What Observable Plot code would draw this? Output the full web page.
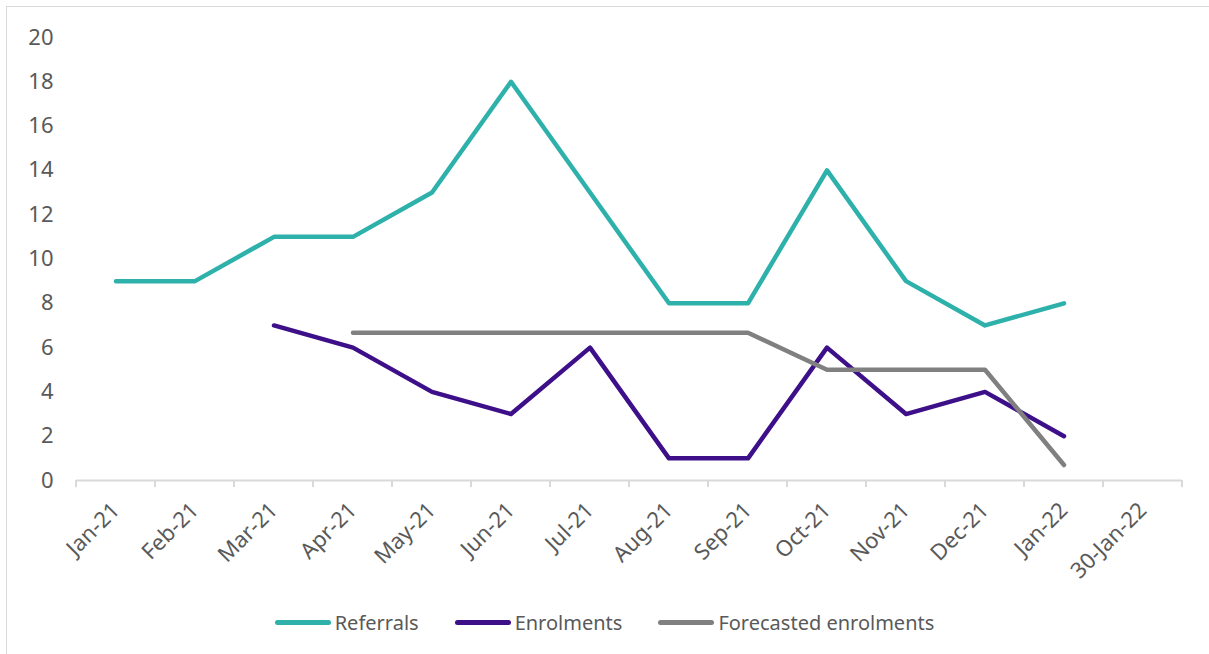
<!DOCTYPE html>
<html><head><meta charset="utf-8">
<script src="https://cdn.jsdelivr.net/npm/d3@7"></script>
<script src="https://cdn.jsdelivr.net/npm/@observablehq/plot@0.6"></script>
<style>
body{margin:0;background:#fff;overflow:hidden;font-family:"Noto Sans",sans-serif;width:1209px;height:654px;position:relative;}
#frame{position:absolute;left:6px;top:6px;width:1230px;height:680px;border:1px solid #d9d9d9;box-sizing:border-box;}
#chart{position:absolute;left:0;top:0;}
#legend{position:absolute;left:0;top:600px;width:1209px;height:44px;display:flex;justify-content:center;align-items:center;gap:36px;color:#595959;font-size:20px;}
.item{display:flex;align-items:center;}
.sw{width:56px;height:5px;border-radius:3px;margin-right:4px;}
</style></head>
<body>
<div id="frame"></div>
<div id="chart"></div>
<div id="legend"></div>
<script>
const months = ["Jan-21","Feb-21","Mar-21","Apr-21","May-21","Jun-21","Jul-21","Aug-21","Sep-21","Oct-21","Nov-21","Dec-21","Jan-22","30-Jan-22"];
const referrals  = [9, 9, 11, 11, 13, 18, 13, 8, 8, 14, 9, 7, 8, null];
const enrolments = [null, null, 7, 6, 4, 3, 6, 1, 1, 6, 3, 4, 2, null];
const forecast   = [null, null, null, 6.67, 6.67, 6.67, 6.67, 6.67, 6.67, 5, 5, 5, 0.7, null];
const seriesNames = ["Referrals", "Enrolments", "Forecasted enrolments"];
const seriesColors = ["#2DB1AA", "#3D108A", "#808080"];
const yTicks = [0, 2, 4, 6, 8, 10, 12, 14, 16, 18, 20];

const seriesValues = [referrals, enrolments, forecast];
const rows = [];
seriesNames.forEach((s, si) => {
  seriesValues[si].forEach((v, i) => { if (v != null) rows.push({series: s, month: months[i], value: v}); });
});

const chart = Plot.plot({
  width: 1209, height: 600,
  marginLeft: 76, marginRight: 27, marginTop: 37, marginBottom: 120,
  x: {type: "band", domain: months, padding: 0, label: null},
  y: {domain: [0, 20], label: null},
  color: {domain: seriesNames, range: seriesColors},
  style: {fontFamily: "'Noto Sans', sans-serif", fontSize: "22px", color: "#595959", background: "transparent"},
  marks: [
    Plot.ruleY([0], {stroke: "#d9d9d9", strokeWidth: 2}),
    Plot.axisY({ticks: yTicks, tickSize: 0, tickPadding: 23, fontSize: 22, fill: "#595959", label: null}),
    Plot.axisX({tickSize: 0, tickRotate: -45, tickPadding: 26, fontSize: 22, fill: "#595959", label: null}),
    Plot.line(rows, {x: "month", y: "value", z: "series", stroke: "series", strokeWidth: 4.5, strokeLinecap: "round", strokeLinejoin: "round"})
  ]
});
document.getElementById("chart").appendChild(chart);

// tick marks at band boundaries, positioned from the library's x scale
const xs = chart.scale("x");
const ys = chart.scale("y");
const y0 = ys.apply(0);
const bounds = months.map(m => xs.apply(m)).concat([xs.apply(months[months.length - 1]) + xs.bandwidth]);
const svg = d3.select(chart);
svg.append("g").selectAll("line").data(bounds).join("line")
  .attr("x1", d => d).attr("x2", d => d)
  .attr("y1", y0).attr("y2", y0 + 7)
  .attr("stroke", "#d9d9d9").attr("stroke-width", 2);

// legend
const legend = d3.select("#legend");
seriesNames.forEach((s, i) => {
  const it = legend.append("div").attr("class", "item");
  it.append("div").attr("class", "sw").style("background", seriesColors[i]);
  it.append("span").text(s);
});
</script>
</body></html>
